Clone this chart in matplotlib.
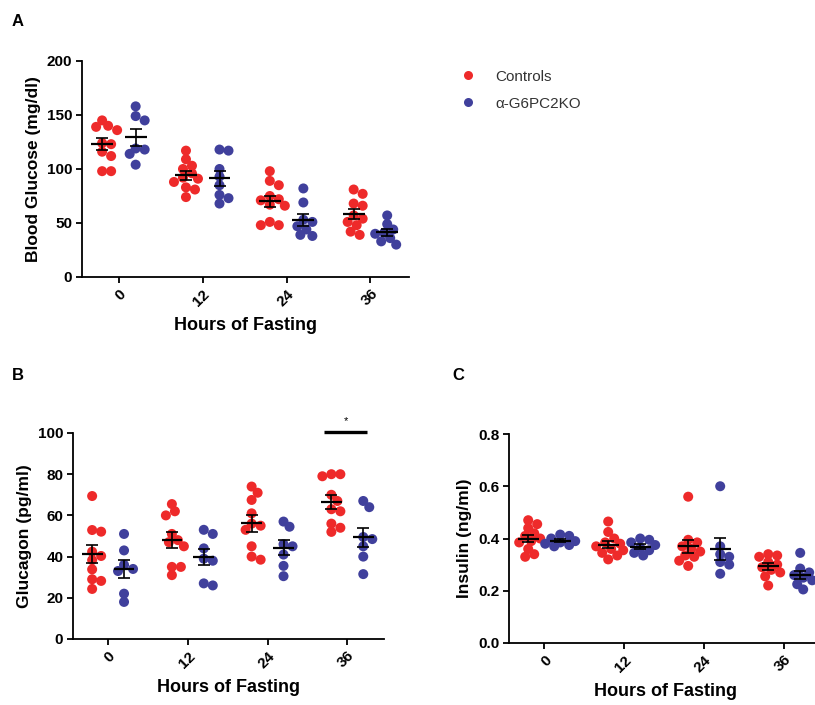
import numpy as np
import matplotlib
matplotlib.use('Agg')
import matplotlib.pyplot as plt
from matplotlib.lines import Line2D

plt.rcParams['font.family'] = ['Liberation Sans', 'DejaVu Sans']

hours = ['0', '12', '24', '36']
groups = ['Controls', 'α-G6PC2KO']
red = '#ee2a2a'
blue = '#40409c'

# blood glucose (mg/dl), one list per fasting time point
glucose_ctrl = [
    [145, 140, 139, 136, 124, 123, 116, 112, 98, 98],
    [117, 109, 103, 100, 96, 92, 91, 88, 83, 81, 74],
    [98, 89, 85, 75, 72, 71, 67, 66, 51, 48, 48],
    [81, 77, 68, 66, 57, 54, 51, 48, 42, 39],
]
glucose_ko = [
    [158, 149, 145, 119, 118, 114, 104],
    [118, 117, 100, 93, 85, 76, 73, 68],
    [82, 69, 53, 51, 47, 44, 39, 38],
    [57, 49, 44, 41, 40, 36, 33, 30],
]

# glucagon (pg/ml)
glucagon_ctrl = [
    [69.4, 52.9, 52.1, 42.4, 40.3, 38.3, 33.8, 29.0, 28.2, 24.3],
    [65.5, 62, 60, 51, 48, 47, 45, 35, 35, 31],
    [74, 71, 67.5, 61, 56, 55, 53, 45, 40, 38.5],
    [80, 80, 79, 70, 67, 63, 62, 56, 54, 52],
]
glucagon_ko = [
    [51, 43, 36, 34, 33, 22, 18],
    [53, 51, 44, 39, 38, 27, 26],
    [57, 54.5, 46, 45, 41, 35.5, 30.5],
    [67, 64, 49.5, 48.5, 45, 40, 31.5],
]

# insulin (ng/ml)
insulin_ctrl = [
    [0.47, 0.455, 0.44, 0.42, 0.41, 0.40, 0.39, 0.385, 0.36, 0.34, 0.33],
    [0.465, 0.425, 0.40, 0.385, 0.38, 0.37, 0.36, 0.355, 0.345, 0.335, 0.32],
    [0.56, 0.395, 0.385, 0.37, 0.36, 0.35, 0.335, 0.33, 0.315, 0.295],
    [0.34, 0.335, 0.33, 0.31, 0.30, 0.29, 0.28, 0.27, 0.255, 0.22],
]
insulin_ko = [
    [0.415, 0.41, 0.40, 0.39, 0.385, 0.38, 0.375, 0.37],
    [0.40, 0.395, 0.385, 0.375, 0.365, 0.355, 0.345, 0.335],
    [0.60, 0.37, 0.34, 0.33, 0.31, 0.30, 0.265],
    [0.345, 0.285, 0.27, 0.26, 0.25, 0.24, 0.225, 0.205],
]

W, H = 815, 705
fig = plt.figure(figsize=(W / 100, H / 100), dpi=100)


def px_axes(left, top, right, bottom):
    return fig.add_axes([left / W, 1 - bottom / H, (right - left) / W, (bottom - top) / H])


def swarm(ax, center, vals, diam, max_off=15):
    # compact beeswarm: points may overlap a bit, spread is capped
    pts = ax.transData.transform([(center, v) for v in vals])
    order = np.argsort(-pts[:, 1])
    placed = []
    xs = np.zeros(len(vals))
    mind = diam * 0.75
    cands = [0.0]
    for k in range(1, 6):
        cands += [k * max_off / 5, -k * max_off / 5]
    for i in order:
        y = pts[i, 1]
        best, best_d = 0.0, -1
        for dx in cands:
            d = min([np.hypot(dx - px, y - py) for px, py in placed] + [1e9])
            if d >= mind:
                best = dx
                break
            if d > best_d:
                best, best_d = dx, d
        placed.append((best, y))
        xs[i] = best
    x0 = pts[0, 0]
    return [ax.transData.inverted().transform((x0 + dx, 0))[0] for dx in xs]


def panel(ax, ctrl, ko, ylim, yticks, ylabel, fmt):
    ax.set_xlim(-0.44, 3.46)
    ax.set_ylim(*ylim)
    for side in ['top', 'right']:
        ax.spines[side].set_visible(False)
    for side in ['left', 'bottom']:
        ax.spines[side].set_linewidth(1.3)
    ax.set_xticks(range(len(hours)))
    ax.set_xticklabels(hours, rotation=45, ha='right', rotation_mode='anchor')
    ax.set_yticks(yticks)
    ax.set_yticklabels([fmt.format(t) for t in yticks])
    ax.tick_params(width=1.3, length=4, labelsize=11, pad=3)
    for lab in ax.get_xticklabels() + ax.get_yticklabels():
        lab.set_fontweight('bold')
    ax.set_xlabel('Hours of Fasting', fontsize=13, fontweight='bold', labelpad=6)
    ax.set_ylabel(ylabel, fontsize=12.5, fontweight='bold', labelpad=4)
    for data, off, col in [(ctrl, -0.2, red), (ko, 0.2, blue)]:
        for i, vals in enumerate(data):
            c = i + off
            xs = swarm(ax, c, vals, 10)
            ax.scatter(xs, vals, s=52, color=col, edgecolors='none', zorder=2, clip_on=False)
            m = np.mean(vals)
            sem = np.std(vals, ddof=1) / np.sqrt(len(vals))
            ax.hlines(m, c - 0.13, c + 0.13, color='black', lw=1.6, zorder=3)
            ax.errorbar(c, m, yerr=sem, fmt='none', ecolor='black', elinewidth=1.2,
                        capsize=4, capthick=1.2, zorder=3)


axA = px_axes(82, 61, 409, 277)
panel(axA, glucose_ctrl, glucose_ko, (0, 200), [0, 50, 100, 150, 200],
      'Blood Glucose (mg/dl)', '{:g}')

axB = px_axes(73, 433, 384, 639)
panel(axB, glucagon_ctrl, glucagon_ko, (0, 100), [0, 20, 40, 60, 80, 100],
      'Glucagon (pg/ml)', '{:g}')
axB.plot([2.71, 3.25], [100.5, 100.5], color='black', lw=2.4, clip_on=False,
         solid_capstyle='butt')
axB.text(2.98, 103.5, '*', ha='center', va='bottom', fontsize=8)

axC = px_axes(509, 434, 821, 643)
panel(axC, insulin_ctrl, insulin_ko, (0, 0.8), [0.0, 0.2, 0.4, 0.6, 0.8],
      'Insulin (ng/ml)', '{:.1f}')

for txt, x, y in [('A', 12, 22), ('B', 12, 375), ('C', 452, 375)]:
    fig.text(x / W, 1 - y / H, txt, fontsize=12, fontweight='bold', va='center')

handles = [Line2D([], [], ls='none', marker='o', markersize=6.5, color=c, mec='none')
           for c in (red, blue)]
fig.legend(handles, groups, loc='upper left', bbox_to_anchor=(445 / W, 1 - 56 / H),
           frameon=False, fontsize=11, handlelength=1.2, handletextpad=1.2,
           labelspacing=0.85, labelcolor='#333333')

fig.savefig('out.png', dpi=100)
